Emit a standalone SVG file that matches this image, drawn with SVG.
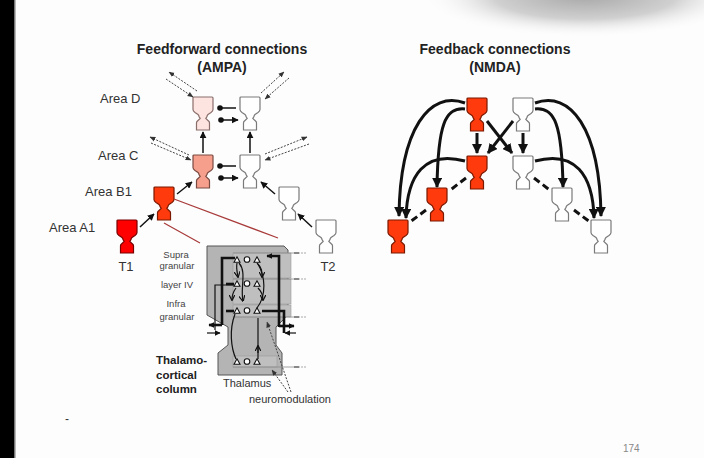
<svg xmlns="http://www.w3.org/2000/svg" width="704" height="458" viewBox="0 0 704 458">
<defs>
<radialGradient id="shadow">
<stop offset="0" stop-color="#a8a8a8"/>
<stop offset="0.55" stop-color="#d0d0d0"/>
<stop offset="1" stop-color="#ffffff" stop-opacity="0"/>
</radialGradient>
<path id="np" d="M1,0 H19 Q20,0 20,1 V12.5 Q20,14 18,15.5 L15,17.5 Q14,18.5 14,19.5 L12.8,21.5 L16,24.5 Q16.5,25 16.5,26 V33 H3.5 V26 Q3.5,25 4,24.5 L7.2,21.5 L6,19.5 Q6,18.5 5,17.5 L2,15.5 Q0,14 0,12.5 V1 Q0,0 1,0 Z"/>
<path id="tri" d="M-3,2.2 L0,-3.2 L3,2.2 Z"/>
<marker id="ahS" viewBox="0 0 10 10" refX="9" refY="5" markerUnits="userSpaceOnUse" markerWidth="7" markerHeight="7" orient="auto"><path d="M0,0 L10,5 L0,10 Z" fill="#111"/></marker>
<marker id="ahT" viewBox="0 0 10 10" refX="9" refY="5" markerUnits="userSpaceOnUse" markerWidth="10" markerHeight="10" orient="auto"><path d="M0,0 L10,5 L0,10 Z" fill="#111"/></marker>
<marker id="ahD" viewBox="0 0 10 10" refX="9" refY="5" markerUnits="userSpaceOnUse" markerWidth="6" markerHeight="6" orient="auto"><path d="M0,1 L10,5 L0,9 Z" fill="#333"/></marker>
<marker id="ahC" viewBox="0 0 10 10" refX="9" refY="5" markerUnits="userSpaceOnUse" markerWidth="6" markerHeight="6" orient="auto"><path d="M0,0 L10,5 L0,10 Z" fill="#111"/></marker>
<marker id="ahY" viewBox="0 0 10 10" refX="9" refY="5" markerUnits="userSpaceOnUse" markerWidth="6" markerHeight="6" orient="auto"><path d="M0,0 L10,5 L0,10" fill="none" stroke="#111" stroke-width="2"/></marker>
</defs>
<style>
.f{font-family:"Liberation Sans",Arial,sans-serif}
.title{font-size:14px;font-weight:bold;fill:#222;text-anchor:middle}
.lab{font-size:13px;fill:#333}
.sm{font-size:9.5px;fill:#444;text-anchor:middle}
.bold{font-size:11.5px;font-weight:bold;fill:#222}
.mid{font-size:11px;fill:#333}
.w{fill:#fff;stroke:#7a7a7a;stroke-width:1.2}
.r{fill:#ff3a0c;stroke:#7a1800;stroke-width:1.2}
.a1{fill:#ff0000;stroke:#7a0000;stroke-width:1.2}
.pk{fill:#fde4e0;stroke:#8a6e6a;stroke-width:1.2}
.sa{fill:#f79f8d;stroke:#7a4a40;stroke-width:1.2}
.ln{fill:none;stroke:#111;stroke-width:1.5}
.dot{fill:none;stroke:#444;stroke-width:1;stroke-dasharray:2 1.4}
.fb{fill:none;stroke:#111;stroke-width:3}
.fbd{fill:none;stroke:#111;stroke-width:3;stroke-dasharray:7 4}
.red{fill:none;stroke:#a83a3a;stroke-width:1.2}
.thk{fill:none;stroke:#111;stroke-width:2.6}
.thn{fill:none;stroke:#111;stroke-width:1.2}
.cn{fill:#fff;stroke:#111;stroke-width:1.1}
.gl{fill:none;stroke:#8a8a8a;stroke-width:0.8}
.lb{fill:#bfbfbf;stroke:#9a9a9a;stroke-width:0.6}
</style>
<rect width="704" height="458" fill="#fdfdfd"/>
<ellipse cx="585" cy="-4" rx="165" ry="42" fill="url(#shadow)"/>
<rect x="0" y="0" width="14" height="458" fill="#000"/>
<rect x="14" y="0" width="1.5" height="458" fill="#777"/>

<g id="titles">
<text class="f title" x="222" y="54">Feedforward connections</text>
<text class="f title" x="222" y="72">(AMPA)</text>
<text class="f title" x="495" y="54">Feedback connections</text>
<text class="f title" x="495" y="72">(NMDA)</text>
</g>

<g id="area-labels">
<text class="f lab" x="100" y="103">Area D</text>
<text class="f lab" x="98" y="160">Area C</text>
<text class="f lab" x="85" y="196">Area B1</text>
<text class="f lab" x="49" y="232">Area A1</text>
<text class="f lab" x="126" y="271" text-anchor="middle" font-size="14">T1</text>
<text class="f lab" x="328" y="271" text-anchor="middle" font-size="14">T2</text>
</g>

<!-- feedforward neurons -->
<g id="ff-D-left"><use href="#np" x="193" y="97" class="pk"/></g>
<g id="ff-D-right"><use href="#np" x="240" y="97" class="w"/></g>
<g id="ff-C-left"><use href="#np" x="193" y="155" class="sa"/></g>
<g id="ff-C-right"><use href="#np" x="240" y="155" class="w"/></g>
<g id="ff-B1-left"><use href="#np" x="154" y="187" class="r"/></g>
<g id="ff-B1-right"><use href="#np" x="279" y="187" class="w"/></g>
<g id="ff-A1-left"><use href="#np" x="117" y="220" class="a1"/></g>
<g id="ff-A1-right"><use href="#np" x="316" y="220" class="w"/></g>

<!-- feedback neurons -->
<g id="fb-D-left"><use href="#np" x="467" y="98" class="r"/></g>
<g id="fb-D-right"><use href="#np" x="513" y="98" class="w"/></g>
<g id="fb-C-left"><use href="#np" x="467" y="156" class="r"/></g>
<g id="fb-C-right"><use href="#np" x="513" y="156" class="w"/></g>
<g id="fb-B1-left"><use href="#np" x="427" y="188" class="r"/></g>
<g id="fb-B1-right"><use href="#np" x="552" y="188" class="w"/></g>
<g id="fb-A1-left"><use href="#np" x="388" y="220" class="r"/></g>
<g id="fb-A1-right"><use href="#np" x="591" y="220" class="w"/></g>

<!-- cortical column -->
<g id="column">
<path d="M207,246 H284 L288,250 V315 L276,327 V345 L282,353 V375 H218 V353 L228,345 V327 L207,315 Z" fill="#b4b4b4" stroke="#555" stroke-width="1"/>
<rect x="233" y="253" width="58" height="25" class="lb"/>
<rect x="233" y="279" width="58" height="25" class="lb"/>
<rect x="233" y="305" width="58" height="12" class="lb"/>
<rect x="233" y="356" width="44" height="11" class="lb"/>
<path class="gl" d="M233,253 H300 M233,279 H300 M233,317 H300 M233,367 H300"/>
<g fill="#888">
<rect x="294" y="252" width="5" height="2"/><circle cx="302" cy="253" r="0.7"/><circle cx="305" cy="253" r="0.7"/>
<rect x="294" y="278" width="5" height="2"/><circle cx="302" cy="279" r="0.7"/><circle cx="305" cy="279" r="0.7"/>
<rect x="294" y="316" width="5" height="2"/><circle cx="302" cy="317" r="0.7"/><circle cx="305" cy="317" r="0.7"/>
<rect x="294" y="366" width="5" height="2"/><circle cx="302" cy="367" r="0.7"/><circle cx="305" cy="367" r="0.7"/>
</g>
<!-- thick pathways -->
<path class="thk" d="M235,258 H222 V325"/>
<path class="thk" d="M222,325 H209" marker-end="url(#ahC)"/>
<path class="thn" d="M207,333 H220" marker-end="url(#ahC)"/>
<path class="thk" d="M279,327 V256 H267" marker-end="url(#ahC)"/>
<path class="thk" d="M279,326 H294" marker-end="url(#ahC)"/>
<path class="thk" d="M262,311 H284 V333"/>
<path class="thn" d="M296,333 H285" marker-end="url(#ahC)"/>
<path class="thn" d="M234,285 H215 V330"/>
<path class="thk" d="M234,284 H226"/>
<path class="thk" d="M234,311 H226"/>
<!-- thin dendrites -->
<path class="thn" d="M237,263 C236,268 237,271 238,277" marker-end="url(#ahY)"/>
<path class="thn" d="M236,288 C233,292 232,295 232,300" marker-end="url(#ahY)"/>
<path class="thn" d="M239,263 C247,272 240,288 243,301" marker-end="url(#ahY)"/>
<path class="thn" d="M257,263 C262,268 262,271 262,277" marker-end="url(#ahY)"/>
<path class="thn" d="M258,288 C262,292 263,295 263,300" marker-end="url(#ahY)"/>
<path class="thn" d="M257,308 C267,295 265,276 258,264"/>
<path class="thn" d="M235,314 C229,330 231,348 236,359"/>
<path class="thn" d="M258,359 V318"/>
<path class="thn" d="M258,345 V352" marker-end="url(#ahY)" transform="rotate(180 258 349)"/>
<!-- neurons in column -->
<g>
<use href="#tri" x="237" y="260" class="cn"/><circle cx="247" cy="259.5" r="2.8" class="cn" stroke-width="1.4"/><use href="#tri" x="257" y="260" class="cn"/>
<use href="#tri" x="237" y="284" class="cn"/><circle cx="247" cy="283.5" r="2.8" class="cn" stroke-width="1.4"/><use href="#tri" x="257" y="284" class="cn"/>
<use href="#tri" x="237" y="311" class="cn"/><circle cx="247" cy="310.5" r="2.8" class="cn" stroke-width="1.4"/><use href="#tri" x="257" y="311" class="cn"/>
<use href="#tri" x="237" y="362" class="cn"/><circle cx="247" cy="361.5" r="2.8" class="cn" stroke-width="1.4"/><use href="#tri" x="257" y="362" class="cn"/>
</g>
</g>

<g id="column-labels">
<text class="f sm" x="176" y="258">Supra</text>
<text class="f sm" x="177" y="269">granular</text>
<text class="f sm" x="177" y="288">layer IV</text>
<text class="f sm" x="176" y="307">Infra</text>
<text class="f sm" x="177" y="320">granular</text>
<text class="f bold" x="156" y="364">Thalamo-</text>
<text class="f bold" x="156" y="379">cortical</text>
<text class="f bold" x="156" y="393">column</text>
<text class="f mid" x="223" y="387">Thalamus</text>
<text class="f mid" x="249" y="403">neuromodulation</text>
</g>

<g id="connectors">
<path class="ln" d="M203,153 V132" marker-end="url(#ahS)"/>
<path class="ln" d="M250,153 V132" marker-end="url(#ahS)"/>
<circle cx="220" cy="108" r="2.8" fill="#111"/><path class="ln" d="M220,108 H236"/>
<circle cx="221" cy="120" r="2.8" fill="#111"/><path class="ln" d="M221,120 H238" marker-end="url(#ahS)"/>
<circle cx="220" cy="166" r="2.8" fill="#111"/><path class="ln" d="M220,166 H236"/>
<circle cx="221" cy="178" r="2.8" fill="#111"/><path class="ln" d="M221,178 H238" marker-end="url(#ahS)"/>
<path class="ln" d="M140,227 L154,214" marker-end="url(#ahS)"/>
<path class="ln" d="M177,194 L192,182" marker-end="url(#ahS)"/>
<path class="ln" d="M312,227 L298,214" marker-end="url(#ahS)"/>
<path class="ln" d="M275,194 L261,182" marker-end="url(#ahS)"/>
<path class="dot" d="M197,91 L169,72" marker-end="url(#ahD)"/>
<path class="dot" d="M166,79 L193,97" marker-end="url(#ahD)"/>
<path class="dot" d="M261,93 L284,72" marker-end="url(#ahD)"/>
<path class="dot" d="M289,78 L265,99" marker-end="url(#ahD)"/>
<path class="dot" d="M189,155 L150,137" marker-end="url(#ahD)"/>
<path class="dot" d="M151,143 L191,160" marker-end="url(#ahD)"/>
<path class="dot" d="M265,154 L307,137" marker-end="url(#ahD)"/>
<path class="dot" d="M309,144 L265,160" marker-end="url(#ahD)"/>
<path class="red" d="M174,199 L278,238"/>
<path class="red" d="M164,223 L200,243"/>
<path class="dot" d="M291,392 L267,322" marker-end="url(#ahD)"/>
<path class="dot" d="M288,392 L272,370" stroke-dasharray="1.6 1.2" marker-end="url(#ahD)"/>
<path class="fb" d="M477,133 V153" marker-end="url(#ahT)"/>
<path class="fb" d="M523,133 V153" marker-end="url(#ahT)"/>
<path class="fb" d="M487,121 L512,153" marker-end="url(#ahT)"/>
<path class="fb" d="M513,121 L488,153" marker-end="url(#ahT)"/>
<path class="fbd" d="M466,178 L449,191"/>
<path class="fbd" d="M426,210 L410,222"/>
<path class="fbd" d="M534,178 L551,191"/>
<path class="fbd" d="M574,210 L590,222"/>
<path class="fb" d="M465,103 C430,90 400,128 399,216" marker-end="url(#ahT)"/>
<path class="fb" d="M465,109 C445,107 438,125 437,187" marker-end="url(#ahT)"/>
<path class="fb" d="M465,161 C425,150 407,175 406,218" marker-end="url(#ahT)"/>
<path class="fb" d="M535,103 C570,90 600,128 601,216" marker-end="url(#ahT)"/>
<path class="fb" d="M535,109 C555,107 562,125 563,187" marker-end="url(#ahT)"/>
<path class="fb" d="M535,161 C575,150 593,175 594,218" marker-end="url(#ahT)"/>
</g>

<g id="footer">
<text class="f" x="65" y="423" font-size="12" fill="#333">-</text>
<text class="f" x="623" y="452" font-size="10" fill="#888">174</text>
</g>
</svg>
